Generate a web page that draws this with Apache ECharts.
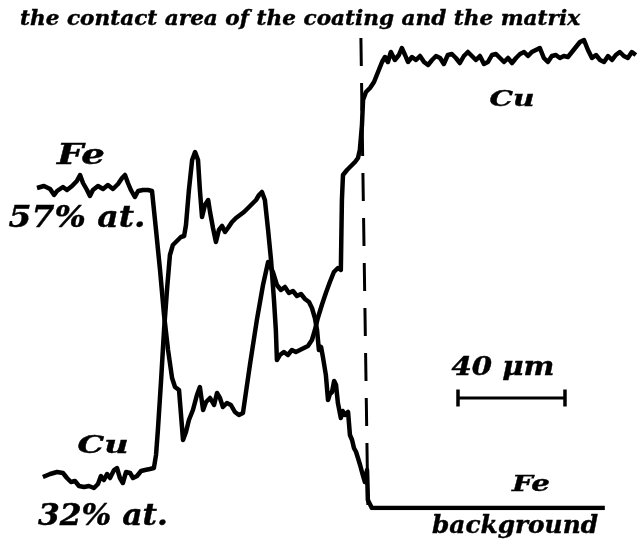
<!DOCTYPE html>
<html>
<head>
<meta charset="utf-8">
<script src="https://cdn.jsdelivr.net/npm/echarts@6/dist/echarts.min.js"></script>
<style>html,body{margin:0;padding:0;background:#fff}#c{width:640px;height:545px}</style>
</head>
<body>
<div id="c"></div>
<script>
// distance (µm), intensity (arbitrary units, 0 = background)
const feProfile = [
[0,64],[2.6,64.4],[4.9,63.8],[6.4,62.6],[7.5,63.4],[9.7,64.2],[11.2,63.6],[13.1,64.4],[14.9,65.4],[16.1,66.6],
[17.2,65],[18.7,63.6],[19.8,62.4],[20.9,63.6],[22.8,64.4],[24.7,63.8],[26.5,64.6],[28.4,63.8],[30.3,64.8],[31.8,66],
[32.9,66.6],[34.0,65],[35.1,63.6],[36.6,62.2],[37.8,63.4],[39.6,63.6],[41.5,63.6],[43.0,63.4],
[44.5,55.6],[46.0,47.6],[47.5,38.6],[49.0,31.6],[50.5,26],[51.6,24.2],[53.1,23.6],[54.6,13.6],[55.7,15.2],[56.8,17.6],
[58.3,19.6],[59.8,22.6],[60.9,24.2],[62.1,19.6],[63.2,21.2],[64.7,22],[66.2,20.6],[67.3,23],[68.4,22],[69.5,20.2],
[71.0,21],[72.5,20.6],[74.0,19.2],[75.5,18.6],[77.0,19],
[79.6,28.6],[82.2,37.6],[84.5,44.6],[86.4,49.2],[88.2,47.2],[89.7,44.6],[91.2,43.6],[92.7,44.2],[94.2,43],[95.7,43.4],
[97.2,42.4],[98.7,42.8],[100.2,41.8],[101.7,41.2],[102.8,40],[103.9,38],[104.7,35.6],[105.4,31.6],[106.2,32.2],[106.9,30.2],
[108.0,26.6],[108.8,21.6],[109.5,22.8],[110.3,23.2],[111.1,25.4],[111.8,24.6],[112.5,21],[113.6,18],[114.3,19.4],[115.1,18.6],
[116.3,19.2],[117.0,14.6],[117.8,13.6],[118.5,12],[119.3,11.2],[120.0,10],[120.8,8.6],[121.5,7.2],[122.6,5.2],[123.4,7.6],
[123.7,1.6],[125.2,0],[212.3,0]
];
const cuProfile = [
[2.2,6.2],[4.9,6.8],[7.5,7.2],[9.7,7],[11.2,6],[12.7,5.2],[14.2,5.4],[15.7,4.4],[17.6,4.2],[19.4,4.4],
[21.3,4],[22.8,4.8],[23.9,6.4],[25.0,5.6],[26.2,6.8],[27.3,6],[28.8,7.6],[29.9,8],[31.0,6],[32.1,5],
[33.3,7.2],[34.8,7],[35.9,6],[37.4,6.4],[38.9,7.4],[40.4,7.6],[42.2,7.8],[43.7,8],
[44.5,10.6],[45.2,15.6],[46.4,25.6],[47.5,35.6],[48.6,43.6],[49.7,50.6],[50.8,52.6],[52.3,53.4],[53.8,54.2],[55.0,54.4],
[55.7,56.6],[56.8,63.6],[58.0,69.6],[59.1,71.2],[60.2,69.6],[60.9,63.6],[61.7,58.2],[62.8,60.6],[64.0,61.6],[64.7,59.2],
[65.8,56],[66.9,53.2],[68.0,55.6],[69.2,56.4],[70.3,55.2],[71.4,56],[72.9,57.2],[74.4,58],[75.9,58.6],[77.4,59.2],
[78.9,60],[80.4,60.8],[81.9,61.6],[83.0,62.6],[84.1,63.2],[85.2,61.6],[86.4,55.6],[87.5,49.6],[88.6,41.6],[89.3,35.6],
[89.7,29.6],[90.8,30.6],[92.3,31.2],[93.8,30.6],[95.3,31.6],[96.8,31.2],[98.3,31.6],[99.8,32],[101.3,32.4],[102.8,33.6],
[103.9,35.6],[105.0,38],[106.5,40.6],[108.0,43],[109.5,45.2],[111.0,47.2],[112.5,48],[113.6,47.6],[114.0,61.6],[114.4,66.6],
[115.9,67.6],[117.4,68.4],[118.9,69.2],[120.0,70],[120.7,71.6],[121.5,76.6],[121.9,81.6],[123.0,83.2],[124.5,84],[126.0,85.2],
[127.5,87.2],[129.0,89.2],[130.1,90.2],[131.2,89.2],[132.3,91.2],[133.8,89.6],[135.3,90.6],[136.4,92],[137.6,90.6],[138.7,89.2],
[140.2,90.2],[141.7,89.6],[143.2,90.4],[144.7,89.2],[146.2,88.6],[147.7,89.6],[149.2,90.4],[150.7,90],[152.1,88.8],[153.6,90.6],
[155.1,90.8],[156.6,90],[158.1,89],[159.6,90.4],[161.1,91.2],[162.6,90.4],[164.1,89.6],[165.6,90.4],[167.1,88.8],[168.6,89.2],
[170.1,90.6],[171.6,90.8],[173.1,90],[174.6,89.2],[176.1,90],[177.6,89],[179.1,90],[180.6,90.8],[182.1,91.2],[183.6,90.4],
[185.0,91.2],[186.5,91.6],[188.0,92],[189.5,90],[191.0,89.2],[192.5,90.4],[194.0,90.6],[195.5,90],[197.0,90.4],[198.5,90.2],
[200.0,91.2],[201.5,92.2],[203.0,93.2],[204.5,93.6],[206.0,91.6],[207.5,90],[209.0,90.6],[210.5,89.6],[212.0,89.2],[213.5,90.4],
[215.0,89.6],[216.4,90.6],[217.9,91.2],[219.4,90.4],[220.9,90],[222.4,91.2],[223.9,90.6]
];
const interfaceLine = [[121.1,94],[123.7,0.6]];
const scaleBar = [[157.4,22],[197.4,22]];

const labels = [
  {text:'the contact area of the coating and the matrix', cx:300, cy:20, w:560, size:20},
  {text:'Fe', cx:81, cy:157, w:48, size:27},
  {text:'57% at.', cx:77, cy:219, w:137, size:30},
  {text:'Cu', cx:103, cy:446, w:51, size:25},
  {text:'32% at.', cx:103, cy:517, w:130, size:29},
  {text:'Cu', cx:512, cy:100, w:45, size:23},
  {text:'40 μm', cx:503, cy:368, w:103, size:26},
  {text:'Fe', cx:531, cy:485, w:38, size:23},
  {text:'background', cx:515, cy:527, w:166, size:24}
];

const FONT_FAMILY = '"DejaVu Serif", "Liberation Serif", serif';
const ctx = document.createElement('canvas').getContext('2d');
function fontStr(s){ return 'italic bold ' + s + 'px ' + FONT_FAMILY; }

const graphics = labels.map(l => {
  ctx.font = fontStr(l.size);
  const mw = ctx.measureText(l.text).width;
  return {
    type:'text', x:l.cx, y:l.cy, scaleX: l.w / mw, silent:true,
    style:{text:l.text, font:fontStr(l.size), fill:'#000', stroke:'#000', lineWidth:0.4,
           textAlign:'center', textVerticalAlign:'middle', align:'center', verticalAlign:'middle'}
  };
});

const chart = echarts.init(document.getElementById('c'), null, {renderer:'canvas'});
chart.setOption({
  animation:false,
  backgroundColor:'#fff',
  grid:{left:37, right:2, top:8, bottom:37},
  xAxis:{type:'value', min:0, max:224.7, show:false},
  yAxis:{type:'value', min:0, max:100, show:false},
  series:[
    {type:'line', data:feProfile, symbol:'none', lineStyle:{color:'#000', width:4.5, join:'round'}},
    {type:'line', data:cuProfile, symbol:'none', lineStyle:{color:'#000', width:4.5, join:'round'}},
    {type:'line', data:interfaceLine, symbol:'none', lineStyle:{color:'#000', width:3, type:[28,17]}},
    {type:'line', data:scaleBar, symbol:'rect', symbolSize:[3.5,17], showSymbol:true,
     itemStyle:{color:'#000'}, lineStyle:{color:'#000', width:3}}
  ],
  graphic:graphics
});
</script>
</body>
</html>
